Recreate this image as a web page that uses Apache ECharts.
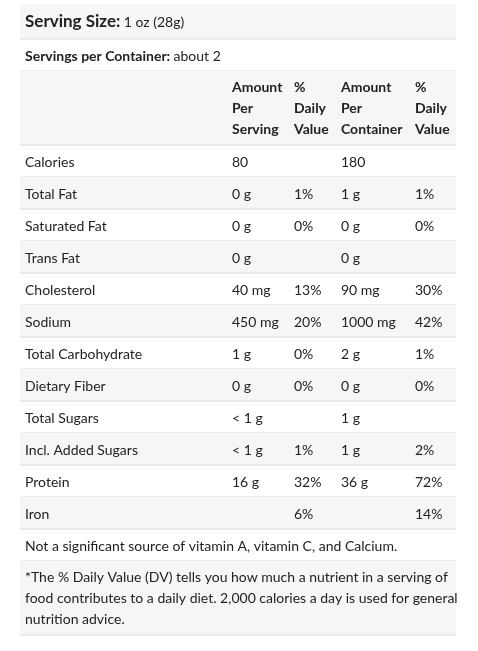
<!DOCTYPE html>
<html><head><meta charset="utf-8">
<script src="https://cdn.jsdelivr.net/npm/echarts@6/dist/echarts.min.js"></script>
<style>html,body{margin:0;padding:0;background:#fff}#c{width:478px;height:651px}</style>
</head><body><div id="c"></div>
<script>
const nutrients = ["Calories","Total Fat","Saturated Fat","Trans Fat","Cholesterol","Sodium","Total Carbohydrate","Dietary Fiber","Total Sugars","Incl. Added Sugars","Protein","Iron"];
const amountPerServing = ["80","0 g","0 g","0 g","40 mg","450 mg","1 g","0 g","< 1 g","< 1 g","16 g",""];
const dvPerServing = ["","1%","0%","","13%","20%","0%","0%","","1%","32%","6%"];
const amountPerContainer = ["180","1 g","0 g","0 g","90 mg","1000 mg","2 g","0 g","1 g","1 g","36 g",""];
const dvPerContainer = ["","1%","0%","","30%","42%","1%","0%","","2%","72%","14%"];
const headers = ["Amount\nPer\nServing","%\nDaily\nValue","Amount\nPer\nContainer","%\nDaily\nValue"];

const F = 'Lato, "DejaVu Sans", sans-serif';
const X0 = 20, X1 = 456, colX = [232, 294, 341, 415], LX = 25;
const els = [];
function rowBg(y, h, gray){
  if (gray) els.push({type:'rect',shape:{x:X0,y:y,width:X1-X0,height:h},style:{fill:'#f6f6f6'},silent:true});
  els.push({type:'line',shape:{x1:X0,y1:y+h,x2:X1,y2:y+h},style:{stroke:'#dcdcdc',lineWidth:1}});
}
function txt(x,y,s,opt){
  els.push({type:'text',x:x,y:y,style:Object.assign({text:s,font:'14px '+F,fill:'#222',textVerticalAlign:'middle'},opt||{})});
}
// Serving size
rowBg(4,35,true);
els.push({type:'text',x:LX,y:22,style:{rich:{b:{font:'bold 17px '+F,fill:'#222'},n:{font:'14px '+F,fill:'#222'}},text:'{b|Serving Size:} {n|1 oz (28g)}',textVerticalAlign:'middle'}});
rowBg(39,32,false);
els.push({type:'text',x:LX,y:56,style:{rich:{b:{font:'bold 14px '+F,fill:'#222'},n:{font:'14px '+F,fill:'#222'}},text:'{b|Servings per Container:} {n|about 2}',textVerticalAlign:'middle'}});
rowBg(71,74,true);
headers.forEach((h,i)=>txt(colX[i],108,h,{font:'bold 14px '+F,lineHeight:21}));
let y = 145;
nutrients.forEach((n,i)=>{
  rowBg(y,32,i%2===1);
  const cy = y+17;
  txt(LX,cy,n);
  txt(colX[0],cy,amountPerServing[i]);
  txt(colX[1],cy,dvPerServing[i]);
  txt(colX[2],cy,amountPerContainer[i]);
  txt(colX[3],cy,dvPerContainer[i]);
  y += 32;
});
rowBg(y,32,false);
txt(LX,y+17,'Not a significant source of vitamin A, vitamin C, and Calcium.');
y += 32;
rowBg(y,74,true);
txt(LX,y+37,'*The % Daily Value (DV) tells you how much a nutrient in a serving of\nfood contributes to a daily diet. 2,000 calories a day is used for general\nnutrition advice.',{lineHeight:21});

const chart = echarts.init(document.getElementById('c'));
chart.setOption({backgroundColor:'#fff',graphic:{elements:els}});
</script></body></html>
